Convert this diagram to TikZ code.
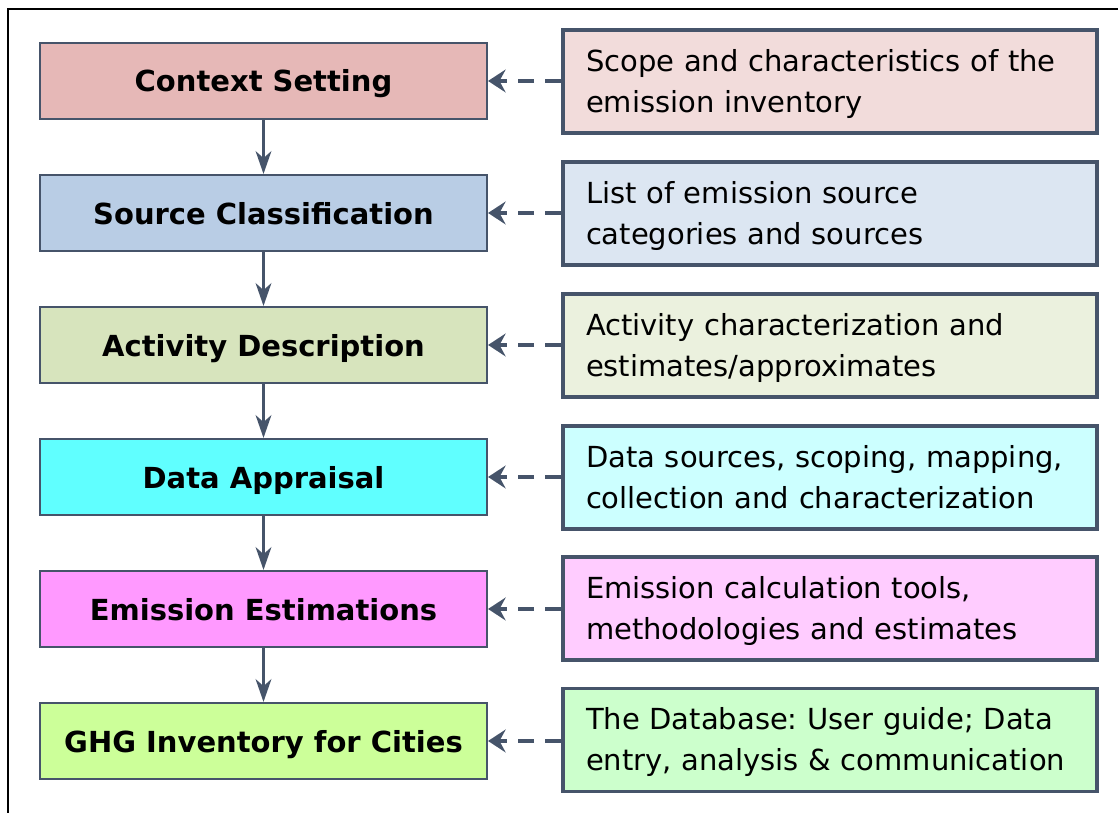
\documentclass[tikz,border=0pt]{standalone}
\usepackage{fontspec}
\setmainfont{DejaVu Sans}
\usetikzlibrary{arrows.meta}
\frenchspacing

\definecolor{edge}{RGB}{70,84,106}
\definecolor{ctxA}{RGB}{230,184,183}
\definecolor{ctxB}{RGB}{242,220,219}
\definecolor{srcA}{RGB}{185,205,229}
\definecolor{srcB}{RGB}{220,230,242}
\definecolor{actA}{RGB}{215,228,189}
\definecolor{actB}{RGB}{235,241,222}
\definecolor{datA}{RGB}{96,255,255}
\definecolor{datB}{RGB}{204,255,255}
\definecolor{emiA}{RGB}{255,153,255}
\definecolor{emiB}{RGB}{255,204,255}
\definecolor{ghgA}{RGB}{204,255,153}
\definecolor{ghgB}{RGB}{204,255,204}

\tikzset{
  stepbox/.style={draw=edge, line width=1.2pt, minimum width=8.94cm, minimum height=1.52cm,
    text depth=0pt, font=\fontsize{16.5}{19}\selectfont\bfseries},
  notebox/.style={draw=edge, line width=2pt, minimum width=10.68cm, minimum height=2.06cm,
    text width=9.76cm, text depth=24pt, inner xsep=0.46cm, align=left,
    font=\fontsize{16.5}{23.3}\selectfont},
  flow/.style={-{Stealth[length=13pt,width=9pt,inset=4pt]}, draw=edge, line width=1.2pt},
  feed/.style={-{Stealth[length=10pt,width=13pt,inset=3.5pt]}, draw=edge, line width=2.2pt,
    dash pattern=on 9pt off 6.5pt}
}

\begin{document}
\begin{tikzpicture}
    \useasboundingbox (0,0) rectangle (22.36,16.26);
    % frame
    \draw[line width=1.6pt] (0.16,0) -- (0.16,16.08) -- (22.36,16.08);

    % steps
    \node[stepbox, fill=ctxA] (CS) at (5.27,14.64) {Context Setting};
    \node[stepbox, fill=srcA] (SC) at (5.27,12.00) {Source Classification};
    \node[stepbox, fill=actA] (AD) at (5.27,9.36) {Activity Description};
    \node[stepbox, fill=datA] (DA) at (5.27,6.72) {Data Appraisal};
    \node[stepbox, fill=emiA] (EE) at (5.27,4.08) {Emission Estimations};
    \node[stepbox, fill=ghgA] (GI) at (5.27,1.44) {GHG Inventory for Cities};

    % notes
    \node[notebox, fill=ctxB] (CSn) at (16.6,14.63) {Scope and characteristics of the\\emission inventory};
    \node[notebox, fill=srcB] (SCn) at (16.6,11.99) {List of emission source\\categories and sources};
    \node[notebox, fill=actB] (ADn) at (16.6,9.35) {Activity characterization and\\estimates/approximates};
    \node[notebox, fill=datB] (DAn) at (16.6,6.71) {Data sources, scoping, mapping,\\collection and characterization};
    \node[notebox, fill=emiB] (EEn) at (16.6,4.09) {Emission calculation tools,\\methodologies and estimates};
    \node[notebox, fill=ghgB] (GIn) at (16.6,1.46) {The Database: User guide; Data\\entry, analysis \& communication};

    \draw[flow] (CS) -- (SC);
    \draw[flow] (SC) -- (AD);
    \draw[flow] (AD) -- (DA);
    \draw[flow] (DA) -- (EE);
    \draw[flow] (EE) -- (GI);

    \draw[feed] (CSn.west |- CS) -- (CS.east);
    \draw[feed] (SCn.west |- SC) -- (SC.east);
    \draw[feed] (ADn.west |- AD) -- (AD.east);
    \draw[feed] (DAn.west |- DA) -- (DA.east);
    \draw[feed] (EEn.west |- EE) -- (EE.east);
    \draw[feed] (GIn.west |- GI) -- (GI.east);
\end{tikzpicture}
\end{document}
